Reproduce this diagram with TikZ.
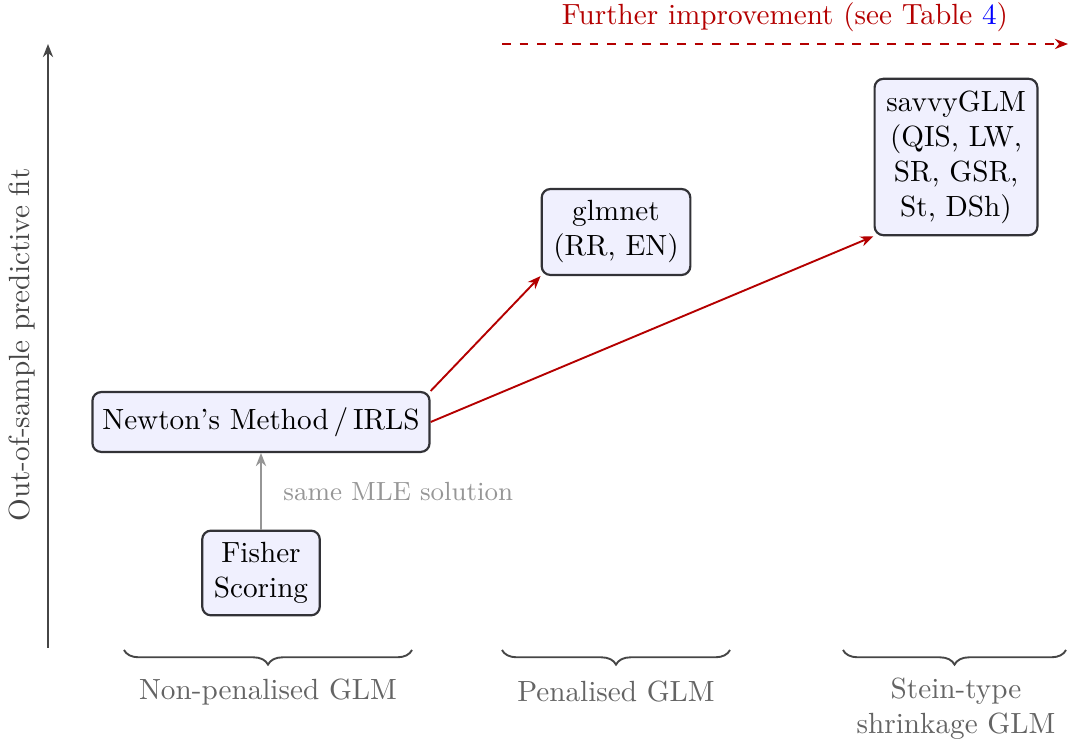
\documentclass[tikz,border=0pt]{standalone}
\usetikzlibrary{arrows.meta,decorations.pathreplacing}
\definecolor{darkred}{RGB}{180,0,0}
\definecolor{axisgray}{RGB}{70,70,70}
\definecolor{labgray}{RGB}{100,100,100}
\definecolor{lightlab}{RGB}{150,150,150}
\definecolor{boxfill}{RGB}{240,240,254}
\definecolor{boxdraw}{RGB}{50,50,55}
\definecolor{linkblue}{RGB}{0,0,255}
\begin{document}
\begin{tikzpicture}[x=0.3425pt,y=-0.3425pt,
  method/.style={draw=boxdraw,fill=boxfill,line width=0.75pt,rounded corners=3pt,
    inner xsep=4pt,inner ysep=4pt,align=center},
  redarrow/.style={darkred,line width=0.65pt,-{Stealth[length=4.5pt,width=3.5pt]}},
  grayarrow/.style={lightlab,line width=0.65pt,-{Stealth[length=4.5pt,width=3.5pt]}},
  axisarrow/.style={axisgray,line width=0.65pt,-{Stealth[length=4.5pt,width=3.5pt]}},
  groupbrace/.style={axisgray,line width=0.65pt,decorate,decoration={brace,mirror,amplitude=5pt}},
  grouplabel/.style={labgray,align=center}]
\useasboundingbox (0,0) rectangle (1068,742);

% axis
\coordinate (axbot) at (48,648);
\coordinate (axtop) at (48,44);
\draw[axisarrow] (axbot) -- (axtop);
\node[axisgray,rotate=90] (axlabel) at (22,345) {Out-of-sample predictive fit};

% further improvement
\coordinate (fiL) at (502,44);
\coordinate (fiR) at (1068,44);
\draw[darkred,line width=0.65pt,dashed,-{Stealth[length=4.5pt,width=3.5pt]}] (fiL) -- (fiR);
\node[darkred] (fitext) at (785,17) {Further improvement (see Table \textcolor{linkblue}{4})};

% nodes
\node[method,inner xsep=3.4pt,minimum height=20.5pt] (newton) at (261,422) {Newton's Method\,/\,IRLS};
\node[method] (fisher) at (261,573) {Fisher\\Scoring};
\node[method] (glmnet) at (616,232) {glmnet\\(RR, EN)};
\node[method] (savvy) at (956,157) {savvyGLM\\(QIS, LW,\\SR, GSR,\\St, DSh)};

% connectors
\draw[grayarrow] (fisher) -- node[right=4pt,lightlab,font=\small] (mle) {same MLE solution} (newton);
\draw[redarrow] (newton.north east) -- (glmnet.south west);
\draw[redarrow] (newton.east) -- (savvy.south west);

% braces
\coordinate (b1l) at (124,650);
\coordinate (b1r) at (412,650);
\coordinate (b2l) at (502,650);
\coordinate (b2r) at (730,650);
\coordinate (b3l) at (843,650);
\coordinate (b3r) at (1066,650);
\draw[groupbrace] (b1l) -- (b1r);
\draw[groupbrace] (b2l) -- (b2r);
\draw[groupbrace] (b3l) -- (b3r);
\node[grouplabel] (g1) at (268,692) {Non-penalised GLM};
\node[grouplabel] (g2) at (616,692) {Penalised GLM};
\node[grouplabel] (g3) at (956,709) {Stein-type\\shrinkage GLM};
\end{tikzpicture}
\end{document}
